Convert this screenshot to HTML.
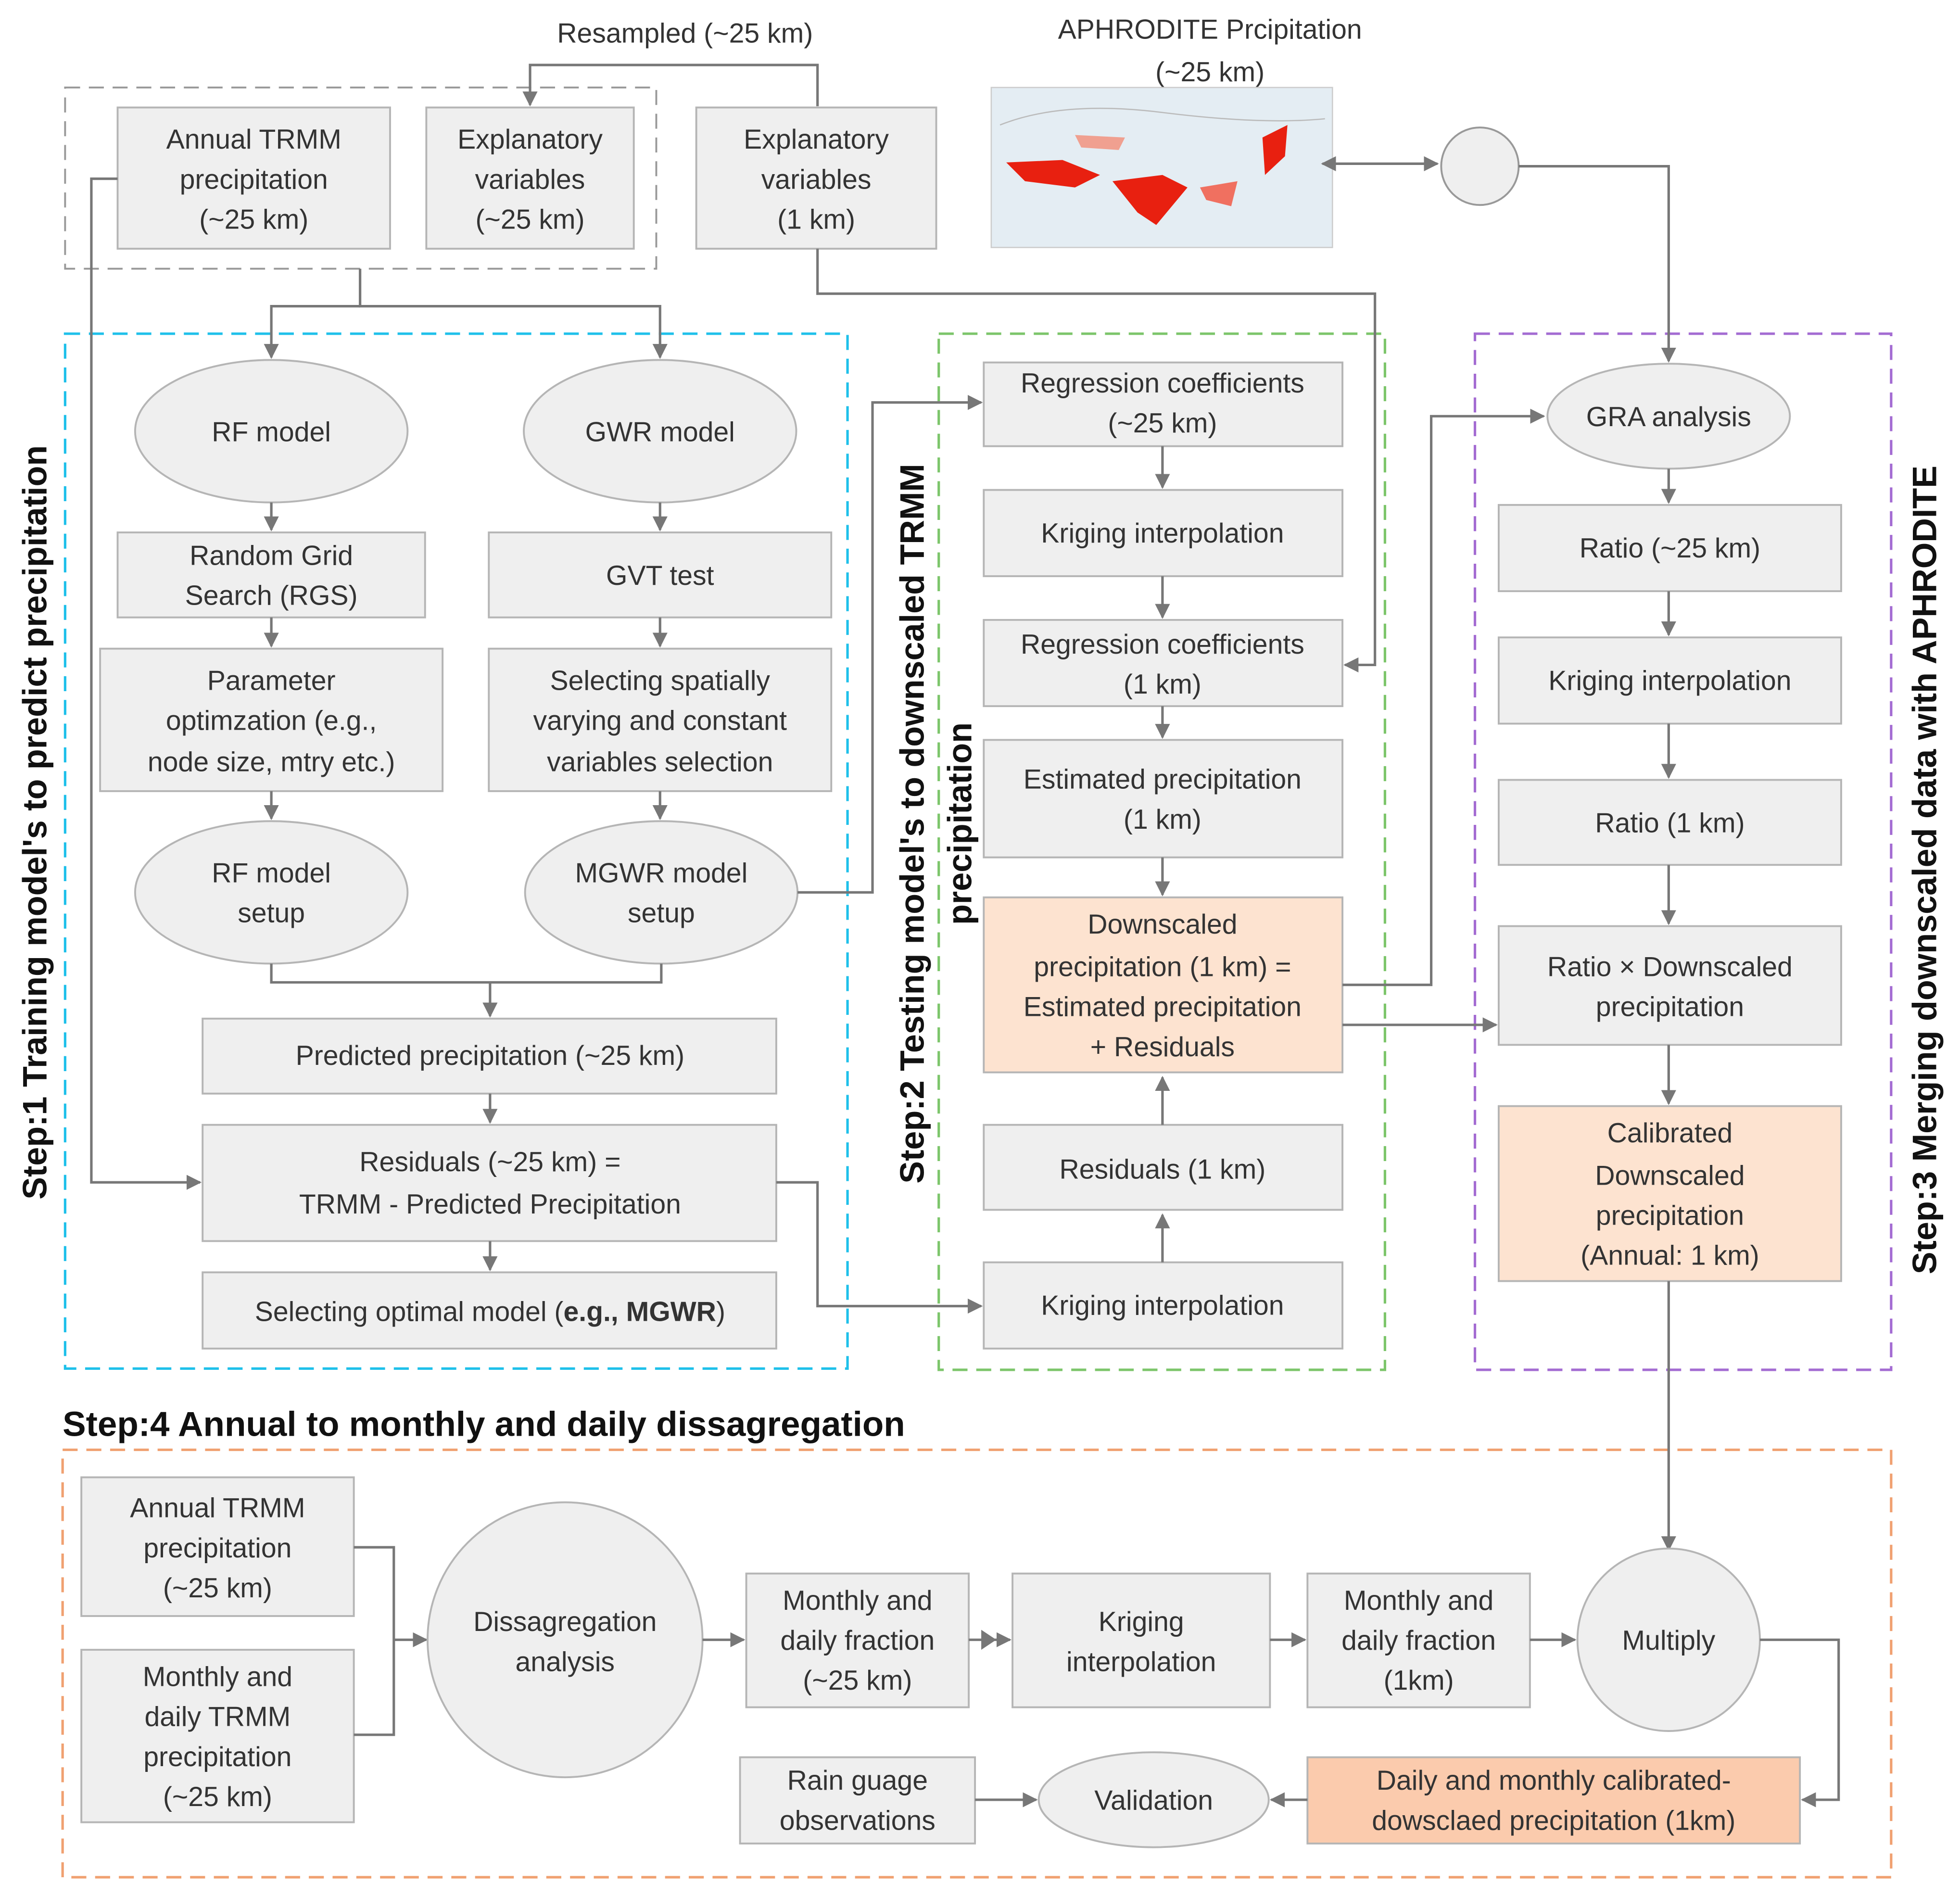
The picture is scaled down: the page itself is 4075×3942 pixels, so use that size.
<!DOCTYPE html>
<html><head><meta charset="utf-8"><style>
html,body{margin:0;padding:0;background:#fff}
svg{display:block}
text{font-family:"Liberation Sans","DejaVu Sans",sans-serif;fill:#333;font-size:22px}
.b{fill:#efefef;stroke:#b5b5b5;stroke-width:1.5}
.o{fill:#fde3d0;stroke:#b5b5b5;stroke-width:1.5}
.l{fill:none;stroke:#777;stroke-width:2}
.t{text-anchor:middle}
.s{font-weight:bold;font-size:27px;fill:#111}
</style></head><body>
<svg width="4075" height="3942" viewBox="0 0 1568 1517" xmlns="http://www.w3.org/2000/svg">
<defs><marker id="a" viewBox="0 0 10 10" refX="9" refY="5" markerWidth="6" markerHeight="6" orient="auto-start-reverse"><path d="M0,0L10,5L0,10z" fill="#777"/></marker></defs>
<rect width="1568" height="1517" fill="#fff"/>
<rect x="52" y="70" width="473" height="145" fill="none" stroke="#999" stroke-width="1.5" stroke-dasharray="12,7"/>
<rect x="52" y="267" width="626" height="828" fill="none" stroke="#1ec0ea" stroke-width="2" stroke-dasharray="12,7"/>
<rect x="751" y="267" width="357" height="829" fill="none" stroke="#7cc56a" stroke-width="2" stroke-dasharray="12,7"/>
<rect x="1180" y="267" width="333" height="829" fill="none" stroke="#a36bd2" stroke-width="2" stroke-dasharray="12,7"/>
<rect x="50" y="1160" width="1463" height="342" fill="none" stroke="#f0a070" stroke-width="2" stroke-dasharray="12,7"/>
<text x="548" y="34" class="t">Resampled (~25 km)</text>
<text x="968" y="31" class="t">APHRODITE Prcipitation</text>
<text x="968" y="65" class="t">(~25 km)</text>
<path class="l" d="M654,85V52H424V84" marker-end="url(#a)"/>
<rect class="b" x="94" y="86" width="218" height="113"/>
<text class="t" x="203" y="119">Annual TRMM</text><text class="t" x="203" y="151">precipitation</text><text class="t" x="203" y="183">(~25 km)</text>
<rect class="b" x="341" y="86" width="166" height="113"/>
<text class="t" x="424" y="119">Explanatory</text><text class="t" x="424" y="151">variables</text><text class="t" x="424" y="183">(~25 km)</text>
<rect class="b" x="557" y="86" width="192" height="113"/>
<text class="t" x="653" y="119">Explanatory</text><text class="t" x="653" y="151">variables</text><text class="t" x="653" y="183">(1 km)</text>
<rect x="793" y="70" width="273" height="128" fill="#e4edf3" stroke="#ccc"/>
<path d="M800,100Q850,80 930,90T1060,95" fill="none" stroke="#bbb"/>
<path d="M805,130L850,128L880,140L860,150L820,145z" fill="#e82010"/>
<path d="M890,145L930,140L950,150L925,180L910,170z" fill="#e82010"/>
<path d="M1010,110L1030,100L1028,125L1012,140z" fill="#e82010"/>
<path d="M960,150L990,145L985,165L965,160z" fill="#f07060"/>
<path d="M860,108L900,110L895,120L865,118z" fill="#f0a090"/>
<circle cx="1184" cy="133" r="31" fill="#efefef" stroke="#999" stroke-width="1.5"/>
<path class="l" d="M1058,131H1150" marker-start="url(#a)" marker-end="url(#a)"/>
<path class="l" d="M1215,133H1335V289" marker-end="url(#a)"/>
<path class="l" d="M288,215V245H528V286" marker-end="url(#a)"/>
<path class="l" d="M288,245H217V286" marker-end="url(#a)"/>
<ellipse cx="217" cy="345" rx="109" ry="57" class="b"/><text class="t" x="217" y="353">RF model</text>
<ellipse cx="528" cy="345" rx="109" ry="57" class="b"/><text class="t" x="528" y="353">GWR model</text>
<path class="l" d="M528,402V424" marker-end="url(#a)"/>
<path class="l" d="M217,402V424" marker-end="url(#a)"/>
<rect class="b" x="94" y="426" width="246" height="68"/><text class="t" x="217" y="452">Random Grid</text><text class="t" x="217" y="484">Search (RGS)</text>
<rect class="b" x="391" y="426" width="274" height="68"/><text class="t" x="528" y="468">GVT test</text>
<path class="l" d="M217,494V517" marker-end="url(#a)"/><path class="l" d="M528,494V517" marker-end="url(#a)"/>
<rect class="b" x="80" y="519" width="274" height="114"/><text class="t" x="217" y="552">Parameter</text><text class="t" x="217" y="584">optimzation (e.g.,</text><text class="t" x="217" y="617">node size, mtry etc.)</text>
<rect class="b" x="391" y="519" width="274" height="114"/><text class="t" x="528" y="552">Selecting spatially</text><text class="t" x="528" y="584">varying and constant</text><text class="t" x="528" y="617">variables selection</text>
<path class="l" d="M217,633V655" marker-end="url(#a)"/><path class="l" d="M528,633V655" marker-end="url(#a)"/>
<ellipse cx="217" cy="714" rx="109" ry="57" class="b"/><text class="t" x="217" y="706">RF model</text><text class="t" x="217" y="738">setup</text>
<ellipse cx="529" cy="714" rx="109" ry="57" class="b"/><text class="t" x="529" y="706">MGWR model</text><text class="t" x="529" y="738">setup</text>
<path class="l" d="M217,771V786H529V771M392,786V813" marker-end="url(#a)"/>
<rect class="b" x="162" y="815" width="459" height="60"/><text class="t" x="392" y="852">Predicted precipitation (~25 km)</text>
<path class="l" d="M392,875V898" marker-end="url(#a)"/>
<rect class="b" x="162" y="900" width="459" height="93"/><text class="t" x="392" y="937">Residuals (~25 km) =</text><text class="t" x="392" y="971">TRMM - Predicted Precipitation</text>
<path class="l" d="M392,993V1016" marker-end="url(#a)"/>
<rect class="b" x="162" y="1018" width="459" height="61"/><text class="t" x="392" y="1057">Selecting optimal model (<tspan font-weight="bold">e.g., MGWR</tspan>)</text>
<path class="l" d="M94,143H73V946H160" marker-end="url(#a)"/>
<path class="l" d="M621,946H654V1045H785" marker-end="url(#a)"/>
<path class="l" d="M638,714H698V322H785" marker-end="url(#a)"/>
<path class="l" d="M654,199V235H1100V532H1076" marker-end="url(#a)"/>
<rect class="b" x="787" y="290" width="287" height="67"/><text class="t" x="930" y="314">Regression coefficients</text><text class="t" x="930" y="346">(~25 km)</text>
<path class="l" d="M930,357V390" marker-end="url(#a)"/>
<rect class="b" x="787" y="392" width="287" height="69"/><text class="t" x="930" y="434">Kriging interpolation</text>
<path class="l" d="M930,461V494" marker-end="url(#a)"/>
<rect class="b" x="787" y="496" width="287" height="69"/><text class="t" x="930" y="523">Regression coefficients</text><text class="t" x="930" y="555">(1 km)</text>
<path class="l" d="M930,565V590" marker-end="url(#a)"/>
<rect class="b" x="787" y="592" width="287" height="94"/><text class="t" x="930" y="631">Estimated precipitation</text><text class="t" x="930" y="663">(1 km)</text>
<path class="l" d="M930,686V716" marker-end="url(#a)"/>
<rect class="o" x="787" y="718" width="287" height="140"/><text class="t" x="930" y="747">Downscaled</text><text class="t" x="930" y="781">precipitation (1 km) =</text><text class="t" x="930" y="813">Estimated precipitation</text><text class="t" x="930" y="845">+ Residuals</text>
<rect class="b" x="787" y="900" width="287" height="68"/><text class="t" x="930" y="943">Residuals (1 km)</text>
<rect class="b" x="787" y="1010" width="287" height="69"/><text class="t" x="930" y="1052">Kriging interpolation</text>
<path class="l" d="M930,1010V972" marker-end="url(#a)"/><path class="l" d="M930,900V862" marker-end="url(#a)"/>
<path class="l" d="M1074,788H1145V333H1235" marker-end="url(#a)"/>
<path class="l" d="M1074,820H1197" marker-end="url(#a)"/>
<ellipse cx="1335" cy="333" rx="97" ry="42" class="b"/><text class="t" x="1335" y="341">GRA analysis</text>
<path class="l" d="M1335,375V402" marker-end="url(#a)"/>
<rect class="b" x="1199" y="404" width="274" height="69"/><text class="t" x="1336" y="446">Ratio (~25 km)</text>
<path class="l" d="M1335,473V508" marker-end="url(#a)"/>
<rect class="b" x="1199" y="510" width="274" height="69"/><text class="t" x="1336" y="552">Kriging interpolation</text>
<path class="l" d="M1335,579V622" marker-end="url(#a)"/>
<rect class="b" x="1199" y="624" width="274" height="68"/><text class="t" x="1336" y="666">Ratio (1 km)</text>
<path class="l" d="M1335,692V739" marker-end="url(#a)"/>
<rect class="b" x="1199" y="741" width="274" height="95"/><text class="t" x="1336" y="781">Ratio ×  Downscaled</text><text class="t" x="1336" y="813">precipitation</text>
<path class="l" d="M1335,836V883" marker-end="url(#a)"/>
<rect class="o" x="1199" y="885" width="274" height="140"/><text class="t" x="1336" y="914">Calibrated</text><text class="t" x="1336" y="948">Downscaled</text><text class="t" x="1336" y="980">precipitation</text><text class="t" x="1336" y="1012">(Annual: 1 km)</text>
<path class="l" d="M1335,1025V1240" marker-end="url(#a)"/>
<text class="s t" transform="translate(37,658) rotate(-90)">Step:1 Training model's to predict precipitation</text>
<text class="s t" transform="translate(739,659) rotate(-90)">Step:2 Testing model's to downscaled TRMM</text>
<text class="s t" transform="translate(777,659) rotate(-90)">precipitation</text>
<text class="s t" transform="translate(1549,696) rotate(-90)">Step:3 Merging downscaled data with APHRODITE</text>
<text class="s" x="50" y="1149" style="font-size:28px">Step:4 Annual to monthly and daily dissagregation</text>
<rect class="b" x="65" y="1182" width="218" height="111"/><text class="t" x="174" y="1214">Annual TRMM</text><text class="t" x="174" y="1246">precipitation</text><text class="t" x="174" y="1278">(~25 km)</text>
<rect class="b" x="65" y="1320" width="218" height="138"/><text class="t" x="174" y="1349">Monthly and</text><text class="t" x="174" y="1381">daily TRMM</text><text class="t" x="174" y="1413">precipitation</text><text class="t" x="174" y="1445">(~25 km)</text>
<path class="l" d="M283,1238H315V1388H283M315,1312H341" marker-end="url(#a)"/>
<circle cx="452" cy="1312" r="110" class="b"/><text class="t" x="452" y="1305">Dissagregation</text><text class="t" x="452" y="1337">analysis</text>
<path class="l" d="M562,1312H595" marker-end="url(#a)"/>
<rect class="b" x="597" y="1259" width="178" height="107"/><text class="t" x="686" y="1288">Monthly and</text><text class="t" x="686" y="1320">daily fraction</text><text class="t" x="686" y="1352">(~25 km)</text>
<path class="l" d="M775,1312H808" marker-end="url(#a)"/><path d="M785,1304L797,1312L785,1320z" fill="#777"/>
<rect class="b" x="810" y="1259" width="206" height="107"/><text class="t" x="913" y="1305">Kriging</text><text class="t" x="913" y="1337">interpolation</text>
<path class="l" d="M1016,1312H1044" marker-end="url(#a)"/>
<rect class="b" x="1046" y="1259" width="178" height="107"/><text class="t" x="1135" y="1288">Monthly and</text><text class="t" x="1135" y="1320">daily fraction</text><text class="t" x="1135" y="1352">(1km)</text>
<path class="l" d="M1224,1312H1260" marker-end="url(#a)"/>
<circle cx="1335" cy="1312" r="73" class="b"/><text class="t" x="1335" y="1320">Multiply</text>
<path class="l" d="M1408,1312H1471V1440H1442" marker-end="url(#a)"/>
<rect x="1046" y="1406" width="394" height="69" fill="#fbcbad" stroke="#b5b5b5" stroke-width="1.5"/><text class="t" x="1243" y="1432">Daily and monthly calibrated-</text><text class="t" x="1243" y="1464">dowsclaed precipitation (1km)</text>
<ellipse cx="923" cy="1440" rx="92" ry="38" class="b"/><text class="t" x="923" y="1448">Validation</text>
<path class="l" d="M1046,1440H1017" marker-end="url(#a)"/>
<rect class="b" x="592" y="1406" width="188" height="69"/><text class="t" x="686" y="1432">Rain guage</text><text class="t" x="686" y="1464">observations</text>
<path class="l" d="M780,1440H829" marker-end="url(#a)"/>
</svg>
</body></html>
